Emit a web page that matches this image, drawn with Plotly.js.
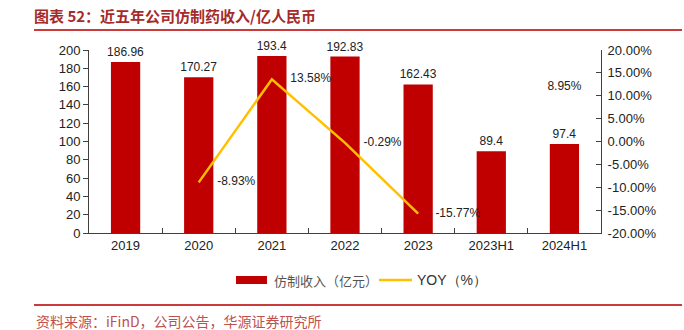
<!DOCTYPE html>
<html>
<head>
<meta charset="utf-8">
<script src="https://cdn.plot.ly/plotly-3.0.1.min.js"></script>
<style>html,body{margin:0;padding:0;background:#fff;}#chart{width:684px;height:330px;}</style>
</head>
<body>
<div id="chart"></div>
<script>
const categories = ['2019','2020','2021','2022','2023','2023H1','2024H1'];
const revenue = [186.96, 170.27, 193.4, 192.83, 162.43, 89.4, 97.4];
const yoy = [null, -8.93, 13.58, -0.29, -15.77, null, 8.95];
const yoyLabelPos = ['middle right','middle right','middle right','middle right','middle right','middle right','top center'];
const leftTicks = [0,20,40,60,80,100,120,140,160,180,200];
const rightTicks = [-20,-15,-10,-5,0,5,10,15,20];
const rightTickText = rightTicks.map(v => v.toFixed(2) + '%');

const FONT = 'Liberation Sans, Arial, sans-serif';
const CJK = 'Noto Sans CJK SC, sans-serif';
const BAR = '#C00000';
const LINE = '#FFC000';

// plot area pixel geometry helpers (for decorations only)
const L = 89, R = 601, T = 50, B = 233;
const px = x => (x - L) / (R - L);
const py = y => (B - y) / (B - T);

// invisible marker sizes: used only to offset the data labels from the line
const labelOffsetSize = [28, 28, 28, 28, 26, 28, 10];

const traces = [
  {
    type: 'bar', x: categories, y: revenue, name: '仿制收入（亿元）',
    marker: {color: BAR}, width: 0.4,
    texttemplate: '%{y}', textposition: 'outside', constraintext: 'none',
    textfont: {family: FONT, size: 12, color: '#222'},
    cliponaxis: false, showlegend: false
  },
  {
    type: 'scatter', mode: 'lines+markers+text', x: categories, y: yoy, yaxis: 'y2',
    name: 'YOY（%）', line: {color: LINE, width: 2.5},
    marker: {size: labelOffsetSize, color: 'rgba(0,0,0,0)', line: {width: 0}},
    connectgaps: false,
    texttemplate: '%{y:.2f}%', textposition: yoyLabelPos,
    textfont: {family: FONT, size: 12, color: '#222'},
    cliponaxis: false, showlegend: false
  }
];

const layout = {
  width: 684, height: 330,
  margin: {l: L, r: 684 - R, t: T, b: 330 - B, pad: 0},
  paper_bgcolor: '#fff', plot_bgcolor: '#fff',
  showlegend: false,
  title: {
    text: '图表 52：近五年公司仿制药收入/亿人民币',
    font: {family: CJK, size: 15, color: '#A52A2A', weight: 'bold'},
    x: 34/684, xanchor: 'left', xref: 'container',
    y: 1 - 17/330, yanchor: 'middle', automargin: false
  },
  xaxis: {
    type: 'category', range: [-0.5, categories.length - 0.5],
    showline: true, linecolor: '#404040', linewidth: 1,
    ticks: 'inside', tickson: 'boundaries', ticklen: 5, tickcolor: '#404040',
    tickfont: {family: FONT, size: 13, color: '#222'},
    showgrid: false, zeroline: false, automargin: false
  },
  yaxis: {
    range: [0, 200], tickvals: leftTicks, showline: true, linecolor: '#404040',
    ticks: 'outside', ticklen: 5, tickcolor: '#404040',
    tickfont: {family: FONT, size: 13, color: '#222'},
    showgrid: false, zeroline: false, automargin: false
  },
  yaxis2: {
    range: [-20, 20], overlaying: 'y', side: 'right',
    tickvals: rightTicks, ticktext: rightTickText,
    showline: true, linecolor: '#404040',
    ticks: 'inside', ticklen: 5, tickcolor: '#404040', ticklabelstandoff: 3,
    tickfont: {family: FONT, size: 13, color: '#222'},
    showgrid: false, zeroline: false, automargin: false
  },
  shapes: [
    {type: 'line', xref: 'paper', yref: 'paper', x0: px(34), x1: px(682), y0: py(30), y1: py(30), line: {color: '#CC3B3B', width: 2}},
    {type: 'line', xref: 'paper', yref: 'paper', x0: px(34), x1: px(682), y0: py(305), y1: py(305), line: {color: '#CC3B3B', width: 2}},
    {type: 'rect', xref: 'paper', yref: 'paper', x0: px(236), x1: px(267), y0: py(284), y1: py(276), fillcolor: BAR, line: {width: 0}},
    {type: 'line', xref: 'paper', yref: 'paper', x0: px(379), x1: px(412), y0: py(280), y1: py(280), line: {color: LINE, width: 2.5}}
  ],
  annotations: [
    {xref: 'paper', yref: 'paper', x: px(272), y: py(280), xanchor: 'left', yanchor: 'middle', showarrow: false,
     text: '仿制收入（亿元）', font: {family: CJK, size: 13, color: '#555'}},
    {xref: 'paper', yref: 'paper', x: px(415), y: py(280), xanchor: 'left', yanchor: 'middle', showarrow: false,
     text: 'YOY（%）', font: {family: FONT, size: 14, color: '#333'}},
    {xref: 'paper', yref: 'paper', x: px(34), y: py(321), xanchor: 'left', yanchor: 'middle', showarrow: false,
     text: '资料来源：iFinD，公司公告，华源证券研究所', font: {family: CJK, size: 14, color: '#C0504D'}}
  ]
};

Plotly.newPlot('chart', traces, layout, {staticPlot: true, displayModeBar: false});
</script>
</body>
</html>
